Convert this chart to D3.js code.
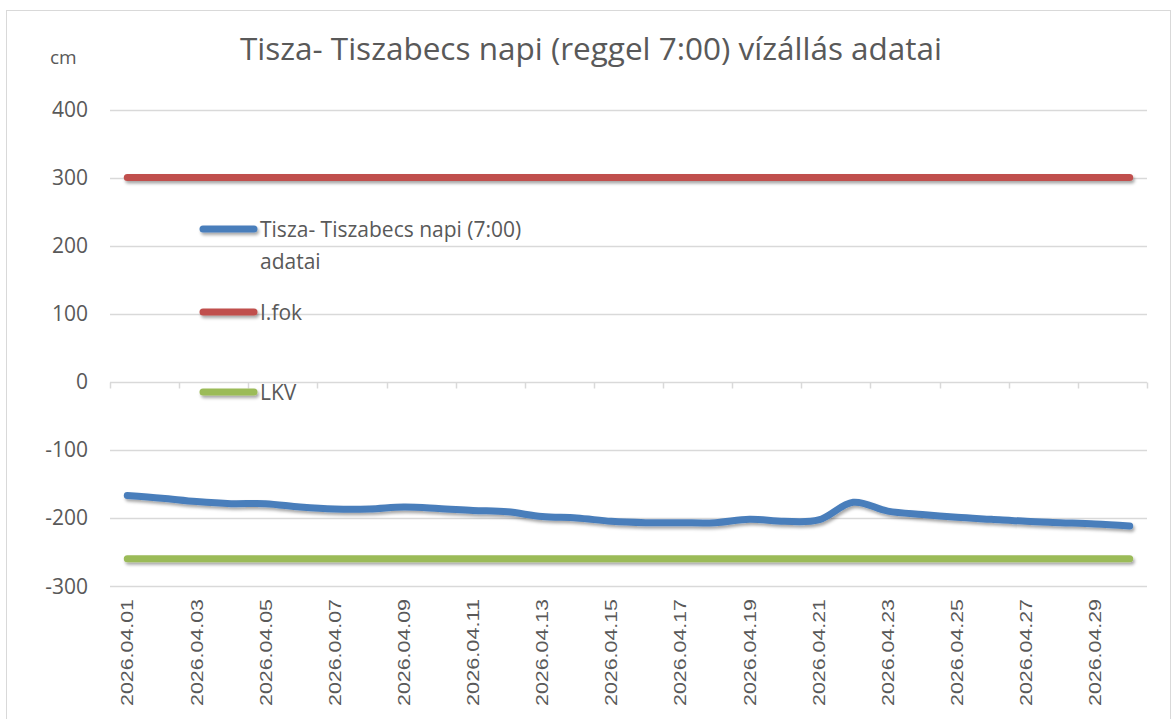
<!DOCTYPE html>
<html>
<head>
<meta charset="utf-8">
<script src="https://cdn.jsdelivr.net/npm/d3@7"></script>
<style>
  body { margin: 0; background: #fff; }
  text { fill: #595959; }
</style>
</head>
<body>
<div id="chart"></div>
<script>
// daily readings, 7:00 each morning
var dates = ["2026.04.01","2026.04.02","2026.04.03","2026.04.04","2026.04.05","2026.04.06",
  "2026.04.07","2026.04.08","2026.04.09","2026.04.10","2026.04.11","2026.04.12","2026.04.13",
  "2026.04.14","2026.04.15","2026.04.16","2026.04.17","2026.04.18","2026.04.19","2026.04.20",
  "2026.04.21","2026.04.22","2026.04.23","2026.04.24","2026.04.25","2026.04.26","2026.04.27",
  "2026.04.28","2026.04.29","2026.04.30"];
var level = [-167,-171,-176,-179,-179,-184,-187,-187,-184,-186,-189,-191,-198,-200,-205,
  -207,-207,-207,-202,-205,-203,-177,-190,-195,-199,-202,-205,-207,-209,-212];
var ifok = [300,300,300,300,300,300,300,300,300,300,300,300,300,300,300,
  300,300,300,300,300,300,300,300,300,300,300,300,300,300,300];
var lkv = [-260,-260,-260,-260,-260,-260,-260,-260,-260,-260,-260,-260,-260,-260,-260,
  -260,-260,-260,-260,-260,-260,-260,-260,-260,-260,-260,-260,-260,-260,-260];
var yTicks = [-300,-200,-100,0,100,200,300,400];
var seriesNames = ["Tisza- Tiszabecs napi (7:00)", "I.fok", "LKV"];
var seriesColors = ["#4a7ebb", "#c0504d", "#9bbb59"];

var width = 1174, height = 719;

var svg = d3.select("#chart").append("svg")
  .attr("width", width)
  .attr("height", height);

// soft shadow like the office chart (user space so flat lines keep it)
var defs = svg.append("defs");
var f = defs.append("filter").attr("id", "shadow")
  .attr("filterUnits", "userSpaceOnUse")
  .attr("x", 0).attr("y", 0).attr("width", width).attr("height", height);
f.append("feDropShadow").attr("dx", 1.5).attr("dy", 2.5).attr("stdDeviation", 1.6)
  .attr("flood-color", "#000").attr("flood-opacity", 0.35);

// frame
svg.append("rect")
  .attr("x", 6.5).attr("y", 10.5)
  .attr("width", 1164).attr("height", 720)
  .attr("fill", "none").attr("stroke", "#d9d9d9");

var x = d3.scaleBand().domain(dates).range([110, 1147]);
var y = d3.scaleLinear().domain([-300, 400]).range([586, 109.5]);
var cx = function(d) { return x(d) + x.bandwidth() / 2; };

// gridlines
svg.append("g").selectAll("line")
  .data(yTicks.filter(function(t) { return t !== 0; }))
  .enter().append("line")
    .attr("x1", 110).attr("x2", 1147)
    .attr("y1", function(d) { return Math.round(y(d)) + 0.5; })
    .attr("y2", function(d) { return Math.round(y(d)) + 0.5; })
    .attr("stroke", "#d9d9d9").attr("stroke-width", 1.5);

// y labels
svg.append("g").selectAll("text")
  .data(yTicks)
  .enter().append("text")
    .attr("x", 88)
    .attr("y", function(d) { return y(d); })
    .attr("dy", "0.36em")
    .attr("text-anchor", "end")
    .style("font-family", "'Open Sans', sans-serif")
    .style("font-size", "21px")
    .text(function(d) { return d; });

// category axis sits on zero
var y0 = Math.round(y(0)) + 0.5;
svg.append("line")
  .attr("x1", 110).attr("x2", 1147)
  .attr("y1", y0).attr("y2", y0)
  .attr("stroke", "#d9d9d9").attr("stroke-width", 1.5);
svg.append("g").selectAll("line")
  .data(d3.range(0, dates.length + 1, 2))
  .enter().append("line")
    .attr("x1", function(i) { return Math.round(110 + i * x.bandwidth()) + 0.5; })
    .attr("x2", function(i) { return Math.round(110 + i * x.bandwidth()) + 0.5; })
    .attr("y1", y0).attr("y2", y0 + 6)
    .attr("stroke", "#d9d9d9").attr("stroke-width", 1.5);

// date labels, every second day
svg.append("g").selectAll("text")
  .data(dates.filter(function(d, i) { return i % 2 === 0; }))
  .enter().append("text")
    .attr("transform", function(d) { return "translate(" + cx(d) + ",599) rotate(-90)"; })
    .attr("dy", "0.36em")
    .attr("text-anchor", "end")
    .attr("textLength", 107)
    .attr("lengthAdjust", "spacingAndGlyphs")
    .style("font-family", "'Liberation Sans', Arial, sans-serif")
    .style("font-size", "17px")
    .text(function(d) { return d; });

var line = d3.line()
  .x(function(d, i) { return cx(dates[i]); })
  .y(function(d) { return y(d); });
var smooth = d3.line()
  .x(function(d, i) { return cx(dates[i]); })
  .y(function(d) { return y(d); })
  .curve(d3.curveCatmullRom.alpha(0.5));

var plot = svg.append("g").attr("filter", "url(#shadow)");
plot.append("path").datum(ifok).attr("d", line)
  .attr("fill", "none").attr("stroke", seriesColors[1])
  .attr("stroke-width", 7).attr("stroke-linecap", "round");
plot.append("path").datum(lkv).attr("d", line)
  .attr("fill", "none").attr("stroke", seriesColors[2])
  .attr("stroke-width", 7).attr("stroke-linecap", "round");
plot.append("path").datum(level).attr("d", smooth)
  .attr("fill", "none").attr("stroke", seriesColors[0])
  .attr("stroke-width", 7).attr("stroke-linecap", "round").attr("stroke-linejoin", "round");

// legend inside plot
var legY = [229, 312, 392];
var leg = svg.append("g").selectAll("g")
  .data(seriesNames)
  .enter().append("g");
leg.append("line")
  .attr("x1", 203).attr("x2", 254)
  .attr("y1", function(d, i) { return legY[i]; })
  .attr("y2", function(d, i) { return legY[i]; })
  .attr("stroke", function(d, i) { return seriesColors[i]; })
  .attr("stroke-width", 7).attr("stroke-linecap", "round")
  .attr("filter", "url(#shadow)");
leg.append("text")
  .attr("x", 260)
  .attr("y", function(d, i) { return legY[i]; })
  .attr("dy", "0.36em")
  .style("font-family", "'Open Sans', sans-serif")
  .style("font-size", "21px")
  .text(function(d) { return d; });
svg.append("text")
  .attr("x", 260).attr("y", 261).attr("dy", "0.36em")
  .style("font-family", "'Open Sans', sans-serif")
  .style("font-size", "21px")
  .text("adatai");

// title and unit
svg.append("text")
  .attr("x", 591).attr("y", 49).attr("dy", "0.36em")
  .attr("text-anchor", "middle")
  .style("font-family", "'Open Sans', sans-serif")
  .style("font-size", "31.5px")
  .text("Tisza- Tiszabecs napi (reggel 7:00) vízállás adatai");
svg.append("text")
  .attr("x", 50).attr("y", 57).attr("dy", "0.36em")
  .style("font-family", "'Open Sans', sans-serif")
  .style("font-size", "19px")
  .text("cm");
</script>
</body>
</html>
